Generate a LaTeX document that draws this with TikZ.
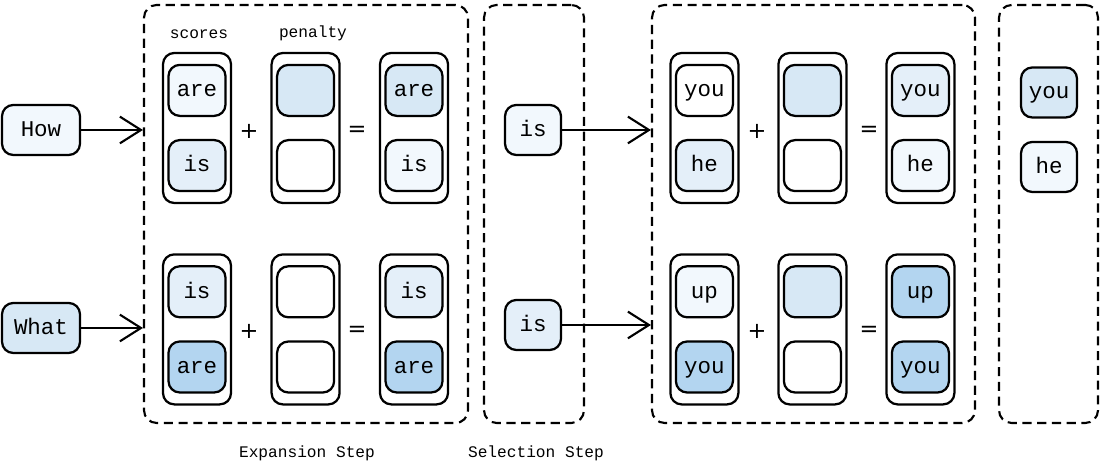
\documentclass[tikz,border=0pt]{standalone}
\usepackage{fontspec}
\setmonofont{Liberation Mono}
\newfontfamily\signfont{DejaVu Sans}
\usetikzlibrary{arrows.meta}
\definecolor{c1}{HTML}{F2F8FD}
\definecolor{c2}{HTML}{E4EFF9}
\definecolor{c3}{HTML}{D7E8F5}
\definecolor{c4}{HTML}{B3D5F0}
\begin{document}
\begin{tikzpicture}[
    >={Straight Barb[length=15pt,width=19pt]},
    stage/.style={draw, dash pattern=on 6.5pt off 4pt, line width=1.5pt, rounded corners=9pt},
    col/.style={draw, line width=1.6pt, rounded corners=8pt, fill=white, minimum width=1.7cm, minimum height=3.75cm},
    word/.style={draw, line width=1.6pt, rounded corners=8pt, minimum width=1.425cm, minimum height=1.275cm, inner sep=0pt,
        font=\ttfamily\fontsize{16}{18}\selectfont, text height=2.05ex, text depth=0pt},
    sign/.style={font=\signfont\fontsize{16}{18}\selectfont},
    tag/.style={font=\ttfamily\fontsize{11.5}{14}\selectfont}
]
    \useasboundingbox (0,0) rectangle (27.5,11.875);

    % Stufen (gestrichelt)
    \node[stage, minimum width=8.1cm, minimum height=10.45cm] (exp) at (7.65,6.525) {};
    \node[stage, minimum width=2.5cm, minimum height=10.45cm] (sel) at (13.35,6.525) {};
    \node[stage, minimum width=8.075cm, minimum height=10.45cm] (exp2) at (20.3375,6.525) {};
    \node[stage, minimum width=2.475cm, minimum height=10.45cm] (sel2) at (26.2125,6.525) {};

    % Eingaben
    \node[word, fill=c1, minimum width=1.95cm, minimum height=1.25cm] (How) at (1.025,8.625) {How};
    \node[word, fill=c3, minimum width=1.95cm, minimum height=1.25cm] (What) at (1.025,3.675) {What};

    % Spalten: scores + penalty = Ergebnis
    \foreach \n/\x/\y/\fa/\ta/\fb/\tb in {
        sc1/4.925/8.675/c1/are/c2/is, pen1/7.64/8.675/c3//white/, res1/10.35/8.675/c3/are/c1/is,
        sc2/4.925/3.64/c2/is/c4/are, pen2/7.64/3.64/white//white/, res2/10.35/3.64/c2/is/c4/are,
        sc3/17.61/8.675/white/you/c2/he, pen3/20.31/8.675/c3//white/, res3/23.01/8.675/c2/you/c1/he,
        sc4/17.61/3.64/c1/up/c4/you, pen4/20.31/3.64/c3//white/, res4/23.01/3.64/c4/up/c4/you} {
        \node[col] (\n) at (\x,\y) {};
        \node[word, fill=\fa] (\n-a) at (\x,\y+0.94) {\ta};
        \node[word, fill=\fb] (\n-b) at (\x,\y-0.94) {\tb};
    }

    % Plus und Gleich
    \foreach \n/\x/\y/\s in {p1/6.225/8.6/+, e1/8.925/8.6/=, p2/6.225/3.6/+, e2/8.925/3.6/=,
        p3/18.925/8.6/+, e3/21.725/8.6/=, p4/18.925/3.6/+, e4/21.725/3.6/=} {
        \node[sign] (\n) at (\x,\y) {\s};
    }

    % Auswahl
    \node[word, fill=c1, minimum width=1.4cm, minimum height=1.25cm] (is1) at (13.325,8.625) {is};
    \node[word, fill=c2, minimum width=1.4cm, minimum height=1.25cm] (is2) at (13.325,3.75) {is};
    \node[word, fill=c3, minimum width=1.4cm, minimum height=1.25cm] (you) at (26.225,9.5625) {you};
    \node[word, fill=c1, minimum width=1.4cm, minimum height=1.25cm] (he) at (26.225,7.7) {he};

    % Pfeile
    \draw[->, line width=1.5pt] (How) -- (How -| exp.west);
    \draw[->, line width=1.5pt] (What) -- (What -| exp.west);
    \draw[->, line width=1.5pt] (is1) -- (is1 -| exp2.west);
    \draw[->, line width=1.5pt] (is2) -- (is2 -| exp2.west);

    % Beschriftungen
    \node[tag] (scores) at (4.975,11.03) {scores};
    \node[tag] (penalty) at (7.825,11.03) {penalty};
    \node[tag] (expstep) at (7.675,0.55) {Expansion Step};
    \node[tag] (selstep) at (13.4,0.55) {Selection Step};
\end{tikzpicture}
\end{document}
